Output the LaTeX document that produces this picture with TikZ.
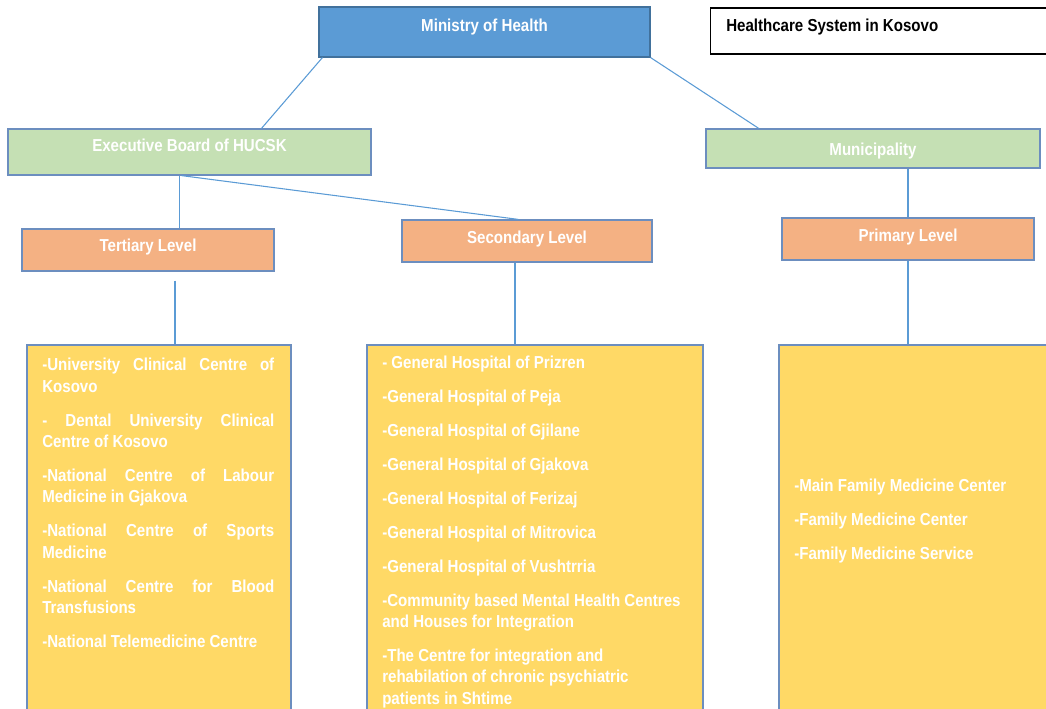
\documentclass[tikz,border=0pt]{standalone}
\usepackage{fontspec}
\setmainfont{Liberation Sans}[FakeStretch=0.87]
\usepackage{xcolor}

\definecolor{mohblue}{HTML}{5B9BD5}
\definecolor{mohline}{HTML}{41719C}
\definecolor{boardgreen}{HTML}{C5E0B4}
\definecolor{levelorange}{HTML}{F4B183}
\definecolor{listyellow}{HTML}{FFD966}
\definecolor{edgeblue}{HTML}{6C8EBF}

\newcommand{\listfmt}{\parindent=0pt\parskip=9.5pt\hyphenpenalty=10000\relax}

\begin{document}
\begin{tikzpicture}[x=0.75pt,y=-0.75pt,
    box/.style={rectangle,draw=edgeblue,line width=0.9pt,inner sep=0pt,text=white,
        font=\fontsize{13}{15}\selectfont\bfseries,text height=9pt},
    link/.style={draw=mohblue,line width=0.8pt},
    listtext/.style={anchor=north west,inner sep=0pt,text=white,text width=174pt,align=justify,
        font=\fontsize{13}{16}\selectfont\bfseries}]
            \useasboundingbox (0,0) rectangle (1046,709);
            \clip (0,0) rectangle (1046,709);

            \node (moh) at (484.5,32) [box,fill=mohblue,draw=mohline,minimum width=248.25pt,minimum height=37.5pt,text depth=10pt] {Ministry of Health};
            \node (title) at (880.5,31) [rectangle,draw=black,line width=1pt,minimum width=254.6pt,minimum height=34.5pt] {};
            \node [anchor=west,inner sep=0pt,font=\fontsize{13}{15}\selectfont\bfseries] at (726,27.5) {Healthcare System in Kosovo};

            \node (board) at (189.5,152) [box,fill=boardgreen,minimum width=272.25pt,minimum height=34.5pt,text depth=10pt] {Executive Board of HUCSK};
            \node (muni) at (873,148.5) [box,fill=boardgreen,minimum width=250.5pt,minimum height=29.25pt,text height=11pt,text depth=0pt] {Municipality};

            \node (tert) at (148,250) [box,fill=levelorange,minimum width=189pt,minimum height=31.5pt,text depth=6pt] {Tertiary Level};
            \node (sec) at (527,241) [box,fill=levelorange,minimum width=187.5pt,minimum height=31.5pt,text depth=5.5pt] {Secondary Level};
            \node (prim) at (908,239) [box,fill=levelorange,minimum width=189pt,minimum height=31.5pt,text depth=5.5pt] {Primary Level};

            \node (tlist) at (159,537.5) [box,fill=listyellow,minimum width=198pt,minimum height=288.75pt] {};
            \node (slist) at (535,537.5) [box,fill=listyellow,minimum width=252pt,minimum height=288.75pt] {};
            \node (plist) at (914.5,537.5) [box,fill=listyellow,minimum width=203.25pt,minimum height=288.75pt] {};

            \node (ttext) at (42,358) [listtext] {\listfmt -University Clinical Centre of\linebreak Kosovo\par
                - Dental University Clinical\linebreak Centre of Kosovo\par
                -National Centre of Labour\linebreak Medicine in Gjakova\par
                -National Centre of Sports\linebreak Medicine\par
                -National Centre for Blood\linebreak Transfusions\par
                -National Telemedicine Centre};
            \node (stext) at (382,355.5) [listtext,text width=250pt] {\listfmt - General Hospital of Prizren\par
                -General Hospital of Peja\par
                -General Hospital of Gjilane\par
                -General Hospital of Gjakova\par
                -General Hospital of Ferizaj\par
                -General Hospital of Mitrovica\par
                -General Hospital of Vushtrria\par
                -Community based Mental Health Centres\newline and Houses for Integration\par
                -The Centre for integration and\newline rehabilation of chronic psychiatric\newline patients in Shtime};
            \node (ptext) at (794,478.5) [listtext,text width=190pt] {\listfmt -Main Family Medicine Center\par
                -Family Medicine Center\par
                -Family Medicine Service};

            \draw[link] ([xshift=3pt]moh.south west) -- ([xshift=54pt]board.north);
            \draw[link] (moh.south east) -- ([xshift=40pt]muni.north west);
            \draw[link] ([xshift=-7.5pt]board.south) -- ([xshift=-7.5pt]board.south |- tert.north);
            \draw[link] ([xshift=-6pt]board.south) -- ([xshift=-6.5pt]sec.north);
            \draw[link] (prim.north |- muni.south) -- (prim.north);
            \draw[link] ([xshift=20.25pt,yshift=-6.75pt]tert.south) -- ([xshift=20.25pt]tert.south |- tlist.north);
            \draw[link] ([xshift=-9pt]sec.south) -- ([xshift=-9pt]sec.south |- slist.north);
            \draw[link] (prim.south) -- (prim.south |- plist.north);
\end{tikzpicture}
\end{document}
